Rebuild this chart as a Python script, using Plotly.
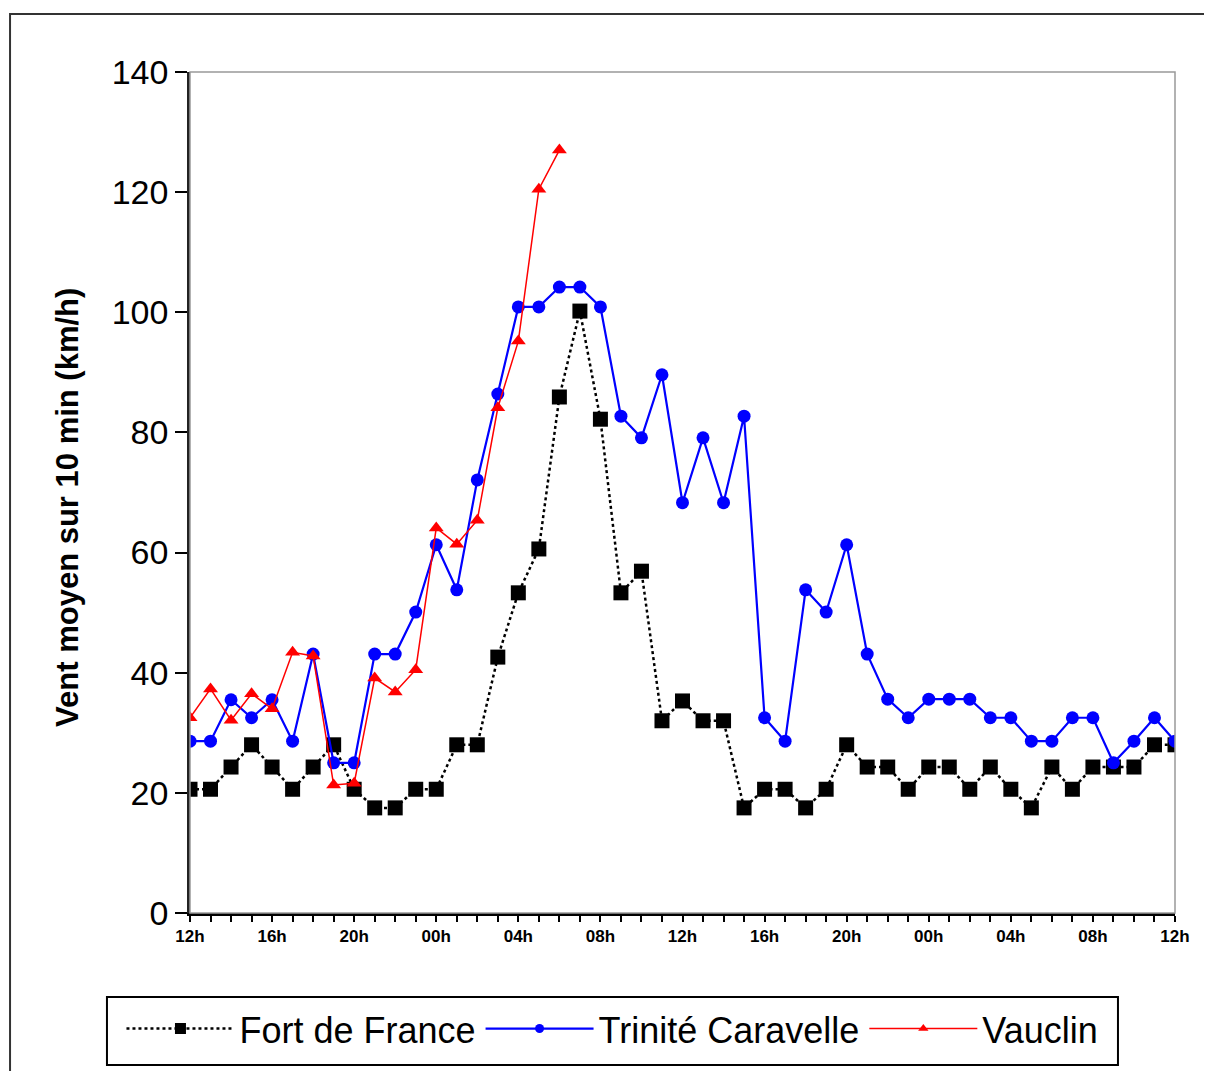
import plotly.graph_objects as go

hours = list(range(49))
tick_vals = list(range(0, 49, 4))
tick_labels = ["12h", "16h", "20h", "00h", "04h", "08h", "12h", "16h", "20h", "00h", "04h", "08h", "12h"]

fort_de_france = [20.6, 20.6, 24.3, 28.0, 24.3, 20.6, 24.3, 28.0, 20.6, 17.5, 17.5, 20.6, 20.6,
                  28.0, 28.0, 42.6, 53.3, 60.6, 85.9, 100.2, 82.2, 53.3, 56.9, 32.0, 35.3, 32.0,
                  32.0, 17.5, 20.6, 20.6, 17.5, 20.6, 28.0, 24.3, 24.3, 20.6, 24.3, 24.3, 20.6,
                  24.3, 20.6, 17.5, 24.3, 20.6, 24.3, 24.3, 24.3, 28.0, 28.0]

trinite = [28.6, 28.6, 35.5, 32.5, 35.5, 28.6, 43.1, 25.0, 25.0, 43.1, 43.1, 50.1, 61.3,
           53.8, 72.1, 86.4, 100.9, 100.9, 104.2, 104.2, 100.9, 82.7, 79.1, 89.6, 68.3, 79.1,
           68.3, 82.7, 32.5, 28.6, 53.8, 50.1, 61.3, 43.1, 35.6, 32.5, 35.6, 35.6, 35.6,
           32.5, 32.5, 28.6, 28.6, 32.5, 32.5, 25.0, 28.6, 32.5, 28.6]

vauclin = [32.5, 37.3, 32.1, 36.5, 34.0, 43.4, 42.8, 21.3, 21.6, 39.1, 36.8, 40.5, 64.1,
           61.4, 65.4, 84.1, 95.2, 120.5, 127.0]

series_names = ["Fort de France", "Trinité Caravelle", "Vauclin"]
y_title = "Vent moyen sur 10 min (km/h)"

FONT = "Arial, Liberation Sans, sans-serif"

styles = [
    dict(line=dict(color="black", width=2.5, dash="dot"), symbol="square", color="black", size=15, lsize=11),
    dict(line=dict(color="#0000ff", width=2.2), symbol="circle", color="#0000ff", size=13, lsize=9),
    dict(line=dict(color="#ff0000", width=1.5), symbol="triangle-up", color="#ff0000", size=13, lsize=9),
]
data = [fort_de_france, trinite, vauclin]

fig = go.Figure()
for name, ys, st in zip(series_names, data, styles):
    fig.add_trace(go.Scatter(
        x=hours[:len(ys)], y=ys, name=name, mode="lines+markers", showlegend=False,
        line=st["line"], marker=dict(symbol=st["symbol"], size=st["size"], color=st["color"]),
    ))
# legend entries with smaller markers, as in the reference legend
for name, st in zip(series_names, styles):
    fig.add_trace(go.Scatter(
        x=[None], y=[None], name=name, mode="lines+markers", showlegend=True,
        line=st["line"], marker=dict(symbol=st["symbol"], size=st["lsize"], color=st["color"]),
    ))

fig.update_layout(
    width=1212, height=1071,
    margin=dict(l=182, r=45, t=64, b=166),
    paper_bgcolor="white", plot_bgcolor="white",
    font=dict(family=FONT, color="black"),
    showlegend=True,
    legend=dict(
        orientation="h", x=0.4289, xanchor="center", y=-0.1375, yanchor="middle",
        font=dict(size=36, family=FONT, color="black"),
        borderwidth=0, bgcolor="rgba(0,0,0,0)",
        itemwidth=108,
    ),
    shapes=[
        dict(type="rect", xref="paper", yref="paper",
             x0=-0.1827, x1=1.1, y0=-0.3, y1=1.069,
             line=dict(color="#333333", width=2)),
        dict(type="rect", xref="paper", yref="paper",
             x0=0, x1=1, y0=0, y1=1,
             line=dict(color="#999999", width=1.5)),
        dict(type="rect", xref="paper", yref="paper",
             x0=-0.0843, x1=0.9421, y0=-0.1807, y1=-0.0999,
             line=dict(color="black", width=2)),
    ],
    annotations=[
        dict(text=y_title, xref="paper", yref="paper", x=-0.1239, y=0.4828,
             xanchor="center", yanchor="middle", textangle=-90, showarrow=False,
             font=dict(size=31, family=FONT, color="black", weight="bold")),
    ],
)

fig.update_xaxes(
    range=[0, 48], tickmode="array", tickvals=tick_vals, ticktext=tick_labels,
    ticks="outside", ticklen=6, tickwidth=1.5, tickcolor="black",
    minor=dict(ticks="outside", dtick=1, ticklen=6, tickwidth=1.5, tickcolor="black", showgrid=False),
    tickfont=dict(size=17, family=FONT, color="black", weight="bold"),
    showline=True, linecolor="black", linewidth=2.5,
    showgrid=False, zeroline=False,
)
fig.update_yaxes(
    range=[0, 140], dtick=20, ticks="outside", ticklen=12, tickwidth=1.5, tickcolor="black",
    tickfont=dict(size=34, family=FONT, color="black"),
    showline=True, linecolor="#222222", linewidth=2.5,
    showgrid=False, zeroline=False,
)

fig.write_html("out.html")
